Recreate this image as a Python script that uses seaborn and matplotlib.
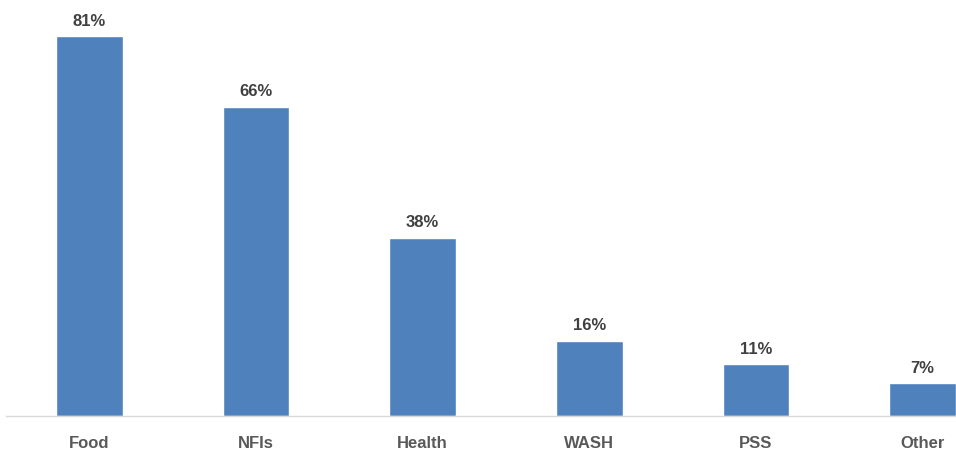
import matplotlib
matplotlib.use("Agg")
import matplotlib.pyplot as plt
import seaborn as sns
import pandas as pd

categories = ["Food", "NFIs", "Health", "WASH", "PSS", "Other"]
values = [81, 66, 38, 16, 11, 7]

df = pd.DataFrame({"category": categories, "value": values})

sns.set_theme(style="white")
plt.rcParams["font.family"] = ["Liberation Sans", "DejaVu Sans"]

fig = plt.figure(figsize=(9.56, 4.51), dpi=100)
# the original chart is cropped on the right, so the axes run past the figure edge
ax = fig.add_axes([6 / 956, 35 / 451, 1000 / 956, 398.5 / 451])

sns.barplot(data=df, x="category", y="value", color="#4F81BD", width=0.4,
            saturation=1, ax=ax)

for i, v in enumerate(values):
    ax.text(i, v + 1.6, f"{v}%", ha="center", va="bottom", fontsize=12,
            fontweight="bold", color="#404040")

ax.set_xlim(-0.5, 5.5)
ax.set_ylim(0, 85)
ax.set_xlabel("")
ax.set_ylabel("")
ax.set_yticks([])
for side in ["top", "right", "left"]:
    ax.spines[side].set_visible(False)
ax.spines["bottom"].set_color("#D9D9D9")
ax.spines["bottom"].set_linewidth(1)
ax.tick_params(axis="x", length=0, pad=14.5, labelsize=12, labelcolor="#595959")
for lbl in ax.get_xticklabels():
    lbl.set_fontweight("bold")

fig.savefig("out.png", dpi=100)
